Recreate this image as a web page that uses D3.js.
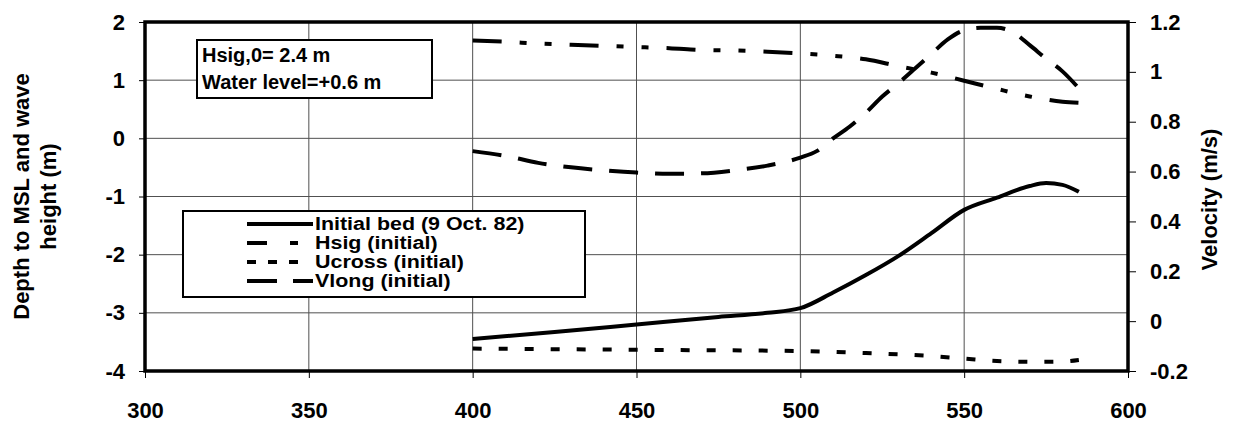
<!DOCTYPE html>
<html><head><meta charset="utf-8">
<script src="https://cdn.jsdelivr.net/npm/d3@7"></script>
<style>body{margin:0;background:#fff}svg{display:block}text{font-family:"Liberation Sans",Arial,sans-serif;font-weight:bold;fill:#000}</style>
</head><body>
<svg id="c" width="1233" height="427"></svg>
<script>
// ---- data ----
const xTicks = [300, 350, 400, 450, 500, 550, 600];
const yLeftTicks = [-4, -3, -2, -1, 0, 1, 2];
const yRightTicks = [-0.2, 0, 0.2, 0.4, 0.6, 0.8, 1, 1.2];

const bedX = [400, 425, 450, 475, 490, 500, 510, 520, 530, 540, 550, 560, 570, 575, 580, 585];
const bedY = [-3.45, -3.33, -3.2, -3.07, -3.0, -2.92, -2.65, -2.35, -2.02, -1.63, -1.23, -1.02, -0.82, -0.77, -0.8, -0.92];

const hsigX = [400, 410, 420, 430, 440, 450, 460, 470, 480, 490, 500, 510, 520, 530, 540, 550, 560, 570, 580, 585];
const hsigY = [1.68, 1.66, 1.63, 1.61, 1.59, 1.57, 1.55, 1.52, 1.51, 1.49, 1.46, 1.42, 1.36, 1.24, 1.13, 0.99, 0.85, 0.72, 0.63, 0.61];

const ucrossX = [400, 450, 500, 520, 540, 550, 560, 570, 580, 585];
const ucrossY = [-0.11, -0.115, -0.12, -0.128, -0.14, -0.15, -0.16, -0.163, -0.162, -0.156];

const vlongX = [400, 410, 420, 430, 440, 450, 460, 470, 480, 490, 500, 505, 510, 515, 520, 525, 530, 535, 540, 545, 550, 555, 560, 565, 570, 575, 580, 585];
const vlongY = [0.682, 0.663, 0.635, 0.617, 0.605, 0.596, 0.591, 0.593, 0.605, 0.624, 0.656, 0.682, 0.733, 0.78, 0.836, 0.901, 0.955, 1.013, 1.072, 1.13, 1.167, 1.177, 1.177, 1.158, 1.107, 1.053, 1.002, 0.934];

const legendLabels = ["Initial bed (9 Oct. 82)", "Hsig (initial)", "Ucross (initial)", "Vlong (initial)"];
const noteLines = ["Hsig,0= 2.4 m", "Water level=+0.6 m"];
const leftTitle = ["Depth to MSL and wave", "height (m)"];
const rightTitle = "Velocity (m/s)";

// ---- drawing ----
const FONT = '"Liberation Sans",Arial,sans-serif';
const svg = d3.select("#c");
const L = 145, R = 1128, T = 22, B = 371;
const x = d3.scaleLinear().domain([300, 600]).range([L, R]);
const yL = d3.scaleLinear().domain([-4, 2]).range([B, T]);
const yR = d3.scaleLinear().domain([-0.2, 1.2]).range([B, T]);
const fmt = d => String(+d.toFixed(1));

// gridlines
const g = svg.append("g");
g.selectAll("line.h").data(yLeftTicks.slice(1, -1)).join("line")
  .attr("x1", L).attr("x2", R).attr("y1", d => yL(d)).attr("y2", d => yL(d))
  .attr("stroke", "#505050").attr("stroke-width", 1);
g.selectAll("line.v").data(xTicks.slice(1, -1)).join("line")
  .attr("y1", T).attr("y2", B).attr("x1", d => x(d)).attr("x2", d => x(d))
  .attr("stroke", "#505050").attr("stroke-width", 1);

// axes
const fs = "22px";
const ax = svg.append("g").attr("transform", `translate(0,${B})`)
  .call(d3.axisBottom(x).tickValues(xTicks).tickSize(7).tickPadding(24).tickFormat(fmt));
const ayl = svg.append("g").attr("transform", `translate(${L},0)`)
  .call(d3.axisLeft(yL).tickValues(yLeftTicks).tickSize(6).tickPadding(14).tickFormat(fmt));
const ayr = svg.append("g").attr("transform", `translate(${R},0)`)
  .call(d3.axisRight(yR).tickValues(yRightTicks).tickSize(8).tickPadding(14).tickFormat(fmt));
[ax, ayl, ayr].forEach(a => {
  a.select(".domain").remove();
  a.selectAll(".tick line").attr("stroke", "#000").attr("stroke-width", 1);
  a.selectAll(".tick text").style("font-size", fs).style("font-family", FONT).style("font-weight", "bold").attr("fill", "#000");
});

// frame
svg.append("rect").attr("x", L).attr("y", T).attr("width", R - L).attr("height", B - T)
  .attr("fill", "none").attr("stroke", "#000").attr("stroke-width", 3.5);

// series
const line = (xs, ys, sy) => d3.line().curve(d3.curveMonotoneX)
  .x((d, i) => x(xs[i])).y((d, i) => sy(ys[i]))(xs);

const dataG = svg.append("g");
const addPath = (xs, ys, sy, dash) => dataG.append("path").attr("d", line(xs, ys, sy))
  .attr("fill", "none").attr("stroke", "#000").attr("stroke-width", 4).attr("stroke-dasharray", dash);
addPath(bedX, bedY, yL, null);
addPath(hsigX, hsigY, yL, "29,18,7,18,7,18");
addPath(ucrossX, ucrossY, yR, "9,17");
addPath(vlongX, vlongY, yR, "29,17");

// annotation box
const nb = svg.append("g");
nb.append("rect").attr("x", 197).attr("y", 40).attr("width", 235).attr("height", 58)
  .attr("fill", "#fff").attr("stroke", "#000").attr("stroke-width", 2);
nb.selectAll("text").data(noteLines).join("text")
  .attr("x", 202).attr("y", (d, i) => 62 + i * 27).style("font-size", "20px").text(d => d);

// legend
const lg = svg.append("g");
lg.append("rect").attr("x", 183).attr("y", 211).attr("width", 402).attr("height", 86)
  .attr("fill", "#fff").attr("stroke", "#000").attr("stroke-width", 2);
const legDash = [null, "20,23,8,30", "9,12,9,12,9,30", "30,16,20"];
legendLabels.forEach((lab, i) => {
  const by = 230 + i * 19;
  lg.append("line").attr("x1", 247).attr("x2", 313).attr("y1", by - 6).attr("y2", by - 6)
    .attr("stroke", "#000").attr("stroke-width", 4).attr("stroke-dasharray", legDash[i]);
  const t = lg.append("text").attr("x", 315).attr("y", by).style("font-size", "18px").text(lab);
  const w = t.node().getComputedTextLength();
  t.attr("textLength", w * 1.19).attr("lengthAdjust", "spacingAndGlyphs");
});

// axis titles
const cy = (T + B) / 2;
svg.append("text").attr("transform", `translate(29,${cy}) rotate(-90)`).attr("text-anchor", "middle").style("font-size", "22px").text(leftTitle[0]);
svg.append("text").attr("transform", `translate(56,${cy}) rotate(-90)`).attr("text-anchor", "middle").style("font-size", "22px").text(leftTitle[1]);
svg.append("text").attr("transform", `translate(1217,${cy + 3}) rotate(-90)`).attr("text-anchor", "middle").style("font-size", "22px").text(rightTitle);
</script>
</body></html>
